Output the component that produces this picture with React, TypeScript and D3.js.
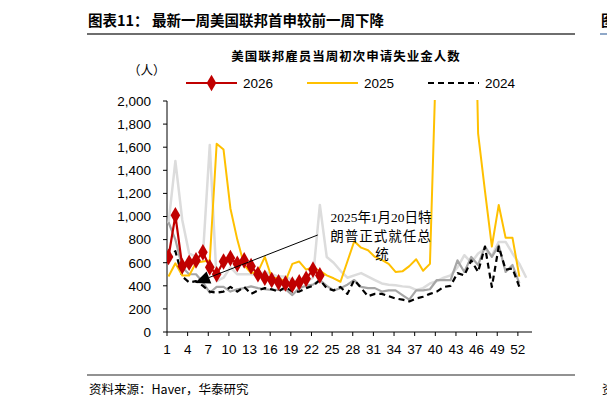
import React from "react";
import * as d3 from "d3";

// weekly initial claims by federal employees, week 1..n of each year
const s2026: number[] = [650, 1010, 570, 600, 620, 690, 560, 500, 610, 640, 590, 620, 570, 500, 470, 450, 430, 420, 410, 430, 460, 540, 490];
const s2025: number[] = [
  480, 595, 490, 490, 600, 610, 620, 1630, 1580, 1070, 800, 580, 510, 520, 650, 470, 465, 440, 590, 610,
  540, 560, 530, 490, 465, 435, 610, 786, 730, 708, 650, 625, 590, 520, 525, 570, 630, 530, 590, 2600,
  3200, 3500, 3800, 4100, 4600, 1720, 1220, 740, 1100, 815, 815, 480,
];
const s2024: number[] = [
  620, 700, 480, 430, 440, 400, 350, 340, 350, 390, 350, 390, 330, 360, 380, 370, 350, 390, 350, 350,
  380, 400, 450, 380, 360, 390, 330, 450, 380, 310, 330, 330, 310, 290, 280, 265, 290, 305, 330, 350,
  390, 400, 510, 490, 620, 520, 740, 390, 740, 540, 550, 390,
];
const s2023: number[] = [
  950, 800, 560, 500, 500, 430, 340, 390, 390, 350, 370, 380, 395, 380, 370, 365, 365, 370, 320, 380,
  400, 410, 450, 400, 360, 380, 410, 450, 390, 380, 380, 350, 360, 360, 320, 280, 360, 360, 370, 450,
  450, 450, 620, 520, 650, 580, 740, 650, 750, 520, 580, 420,
];
const s2022: number[] = [
  940, 1480, 970, 680, 650, 660, 1620, 440, 470, 560, 500, 500, 500, 490, 520, 500, 480, 480, 450, 430,
  430, 470, 1100, 650, 600, 530, 470, 490, 510, 480, 450, 420, 410, 405, 395, 390, 365, 380, 420, 440,
  470, 490, 560, 665, 600, 680, 720, 660, 780, 780, 680, 590, 470,
];

const xTicks: number[] = d3.range(1, 53, 3);
const yTicks: number[] = d3.range(0, 2001, 200);

const legendItems = [
  { label: "2026", color: "#C00000", dash: "", marker: true },
  { label: "2025", color: "#FFC000", dash: "", marker: false },
  { label: "2024", color: "#000000", dash: "6,4", marker: false },
];

const latin = "'Liberation Sans', Arial, sans-serif";
const cjk = "'Noto Sans CJK SC', sans-serif";
const serif = "'Liberation Serif', 'Noto Sans CJK SC', serif";

const W = 607;
const H = 406;
const left = 167;
const right = 532;
const top = 101;
const bottom = 332;

const x = d3.scaleLinear().domain([1, 54]).range([168.5, 168.5 + 53 * 6.88]);
const y = d3.scaleLinear().domain([0, 2000]).range([bottom, top]);

const line = d3
  .line<number>()
  .x((_, i) => x(i + 1))
  .y((d) => y(d));

const diamond = d3.symbol(d3.symbolDiamond, 80)() as string;

// arrow from the inauguration note down to the week it happened
const arrowFrom: [number, number] = [22.7, 840];
const arrowTo: [number, number] = [4.85, 424];

const App: React.FC = () => {
  const ax = x(arrowFrom[0]);
  const ay = y(arrowFrom[1]);
  const bx = x(arrowTo[0]);
  const by = y(arrowTo[1]);
  const ang = Math.atan2(by - ay, bx - ax);
  const headLen = 15;
  const headW = 6.5;
  const hx = bx - headLen * Math.cos(ang);
  const hy = by - headLen * Math.sin(ang);
  const head = [
    [bx, by],
    [hx + headW * Math.sin(ang), hy - headW * Math.cos(ang)],
    [hx - headW * Math.sin(ang), hy + headW * Math.cos(ang)],
  ]
    .map((p) => p.join(","))
    .join(" ");

  return (
    <svg
      width={W}
      height={H}
      style={{ position: "absolute", left: 0, top: 0, background: "#fff" }}
    >
      <defs>
        <clipPath id="plot">
          <rect x={left} y={top - 1} width={right - left + 4} height={bottom - top + 1} />
        </clipPath>
      </defs>
      <rect width={W} height={H} fill="#fff" />

      {/* header */}
      <text x={88} y={26} fontFamily={cjk} fontWeight="bold" fontSize={14.5} fill="#000">
        图表11：  最新一周美国联邦首申较前一周下降
      </text>
      <line x1={87} x2={575} y1={34} y2={34} stroke="#6e6e6e" strokeWidth={2} />
      <text x={601} y={26} fontFamily={cjk} fontWeight="bold" fontSize={14.5} fill="#000">
        图
      </text>
      <line x1={600} x2={607} y1={34} y2={34} stroke="#8fa8c8" strokeWidth={2} />

      {/* chart title */}
      <text
        x={346}
        y={61}
        textAnchor="middle"
        fontFamily={cjk}
        fontWeight="bold"
        fontSize={12.5}
        letterSpacing={1}
        fill="#000"
      >
        美国联邦雇员当周初次申请失业金人数
      </text>
      <text x={128} y={75} fontFamily={cjk} fontSize={12.5} fill="#000">
        （人）
      </text>

      {/* legend */}
      {legendItems.map((it, i) => {
        const lx = [186, 307, 428][i];
        return (
          <g key={it.label}>
            <line
              x1={lx}
              x2={lx + 51}
              y1={83}
              y2={83}
              stroke={it.color}
              strokeWidth={2.2}
              strokeDasharray={it.dash}
            />
            {it.marker && (
              <path d={diamond} transform={`translate(${lx + 25.5},83)`} fill={it.color} />
            )}
            <text x={lx + 57} y={88} fontFamily={latin} fontSize={13.5} fill="#000">
              {it.label}
            </text>
          </g>
        );
      })}

      {/* y axis */}
      <line x1={left} x2={left} y1={top} y2={bottom} stroke="#000" strokeWidth={1} />
      {yTicks.map((t) => (
        <g key={t}>
          <line x1={left - 4} x2={left} y1={y(t)} y2={y(t)} stroke="#000" />
          <text
            x={left - 16}
            y={y(t) + 4.8}
            textAnchor="end"
            fontFamily={latin}
            fontSize={13.5}
            fill="#000"
          >
            {d3.format(",")(t)}
          </text>
        </g>
      ))}

      {/* x axis */}
      <line x1={left} x2={right} y1={bottom} y2={bottom} stroke="#000" strokeWidth={1} />
      {xTicks.map((t) => (
        <g key={t}>
          <line x1={x(t) - 1.5} x2={x(t) - 1.5} y1={bottom} y2={bottom + 4} stroke="#000" />
          <text
            x={x(t) - 1.5}
            y={bottom + 22}
            textAnchor="middle"
            fontFamily={latin}
            fontSize={13.5}
            fill="#000"
          >
            {t}
          </text>
        </g>
      ))}

      {/* series */}
      <g clipPath="url(#plot)" fill="none" strokeLinejoin="round">
        <path d={line(s2022) as string} stroke="#DCDCDC" strokeWidth={2.5} />
        <path d={line(s2023) as string} stroke="#A6A6A6" strokeWidth={2.2} />
        <path d={line(s2024) as string} stroke="#000" strokeWidth={2.2} strokeDasharray="6,4" />
        <path d={line(s2025) as string} stroke="#FFC000" strokeWidth={2} />
        <path d={line(s2026) as string} stroke="#C00000" strokeWidth={2.2} />
        {s2026.map((v, i) => (
          <path
            key={i}
            d={diamond}
            transform={`translate(${x(i + 1)},${y(v)})`}
            fill="#C00000"
            stroke="none"
          />
        ))}
      </g>

      {/* annotation */}
      <line x1={ax} y1={ay} x2={hx} y2={hy} stroke="#000" strokeWidth={1} />
      <polygon points={head} fill="#000" />
      <g fontFamily={serif} fontSize={13.5} fill="#000" textAnchor="middle">
        <text x={381} y={222}>
          2025年1月20日特
        </text>
        <text x={381} y={241} letterSpacing={1}>
          朗普正式就任总
        </text>
        <text x={382} y={259}>
          统
        </text>
      </g>

      {/* footer */}
      <line x1={87} x2={575} y1={375} y2={375} stroke="#6e6e6e" strokeWidth={1.5} />
      <text x={89} y={394} fontFamily={cjk} fontSize={12.5} fill="#000">
        资料来源：Haver，华泰研究
      </text>
      <text x={602} y={394} fontFamily={cjk} fontSize={12.5} fill="#000">
        资
      </text>
    </svg>
  );
};

export default App;
